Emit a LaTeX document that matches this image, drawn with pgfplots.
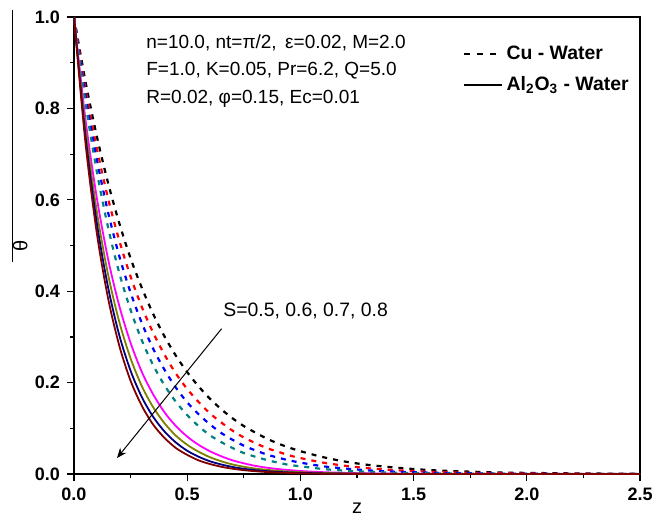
\documentclass[border=0pt]{standalone}
\usepackage{pgfplots}
\pgfplotsset{compat=1.18}
\usepackage{pgfplotstable}
\usetikzlibrary{arrows.meta}
\usepackage{fontspec}
\setmainfont{Liberation Sans}
\definecolor{cteal}{RGB}{0,128,128}
\definecolor{colive}{RGB}{128,128,0}
\definecolor{cnavy}{RGB}{0,0,128}
\definecolor{cmaroon}{RGB}{128,0,0}
\definecolor{cmag}{RGB}{255,0,255}

\pgfplotstableread{
z     a       b       c       d       e       f       g       h
0.00  1.000   1.000   1.000   1.000   1.000   1.000   1.000   1.000
0.05  0.861   0.845   0.831   0.815   0.779   0.760   0.743   0.728
0.10  0.741   0.715   0.691   0.664   0.607   0.577   0.552   0.530
0.15  0.638   0.604   0.574   0.541   0.472   0.438   0.410   0.386
0.20  0.549   0.511   0.477   0.440   0.368   0.333   0.304   0.281
0.25  0.472   0.432   0.397   0.359   0.287   0.253   0.226   0.204
0.30  0.407   0.365   0.330   0.292   0.223   0.192   0.168   0.149
0.35  0.350   0.309   0.274   0.238   0.174   0.146   0.125   0.108
0.40  0.301   0.261   0.228   0.194   0.135   0.111   0.093   0.079
0.45  0.259   0.220   0.189   0.158   0.105   0.084   0.069   0.057
0.50  0.223   0.186   0.157   0.129   0.082   0.064   0.051   0.042
0.55  0.192   0.158   0.131   0.105   0.064   0.049   0.038   0.030
0.60  0.165   0.133   0.109   0.085   0.050   0.037   0.028   0.022
0.65  0.142   0.113   0.090   0.070   0.039   0.028   0.021   0.016
0.70  0.122   0.095   0.075   0.057   0.030   0.021   0.0155  0.0117
0.75  0.105   0.080   0.062   0.046   0.0235  0.016   0.0115  0.0085
0.80  0.091   0.068   0.052   0.038   0.018   0.012   0.0086  0.0062
0.85  0.078   0.057   0.043   0.031   0.014   0.0093  0.0064  0.0045
0.90  0.067   0.049   0.036   0.025   0.011   0.0071  0.0047  0.0033
0.95  0.058   0.041   0.030   0.020   0.0087  0.0054  0.0035  0.0024
1.00  0.050   0.035   0.025   0.017   0.0067  0.0041  0.0026  0.0017
1.10  0.037   0.025   0.017   0.011   0.0041  0.0024  0.0014  0.0009
1.20  0.027   0.018   0.012   0.0073  0.0025  0.0014  0.0008  0.0005
1.30  0.020   0.0127  0.008   0.0048  0.0015  0.0008  0.0004  0.0003
1.40  0.015   0.009   0.0056  0.0032  0.0009  0.0005  0.0002  0.0001
1.50  0.011   0.0065  0.0039  0.0021  0.0006  0.0003  0.0001  0.0001
1.60  0.008   0.0046  0.0027  0.0014  0.0003  0.0002  0.0001  0.0000
1.70  0.006   0.0033  0.0019  0.0009  0.0002  0.0001  0.0000  0.0000
1.80  0.0045  0.0024  0.0013  0.0006  0.0001  0.0000  0.0000  0.0000
1.90  0.0033  0.0017  0.0009  0.0004  0.0000  0.0000  0.0000  0.0000
2.00  0.0025  0.0012  0.0006  0.0003  0.0000  0.0000  0.0000  0.0000
2.25  0.0012  0.0005  0.0002  0.0001  0.0000  0.0000  0.0000  0.0000
2.50  0.0006  0.0002  0.0001  0.0000  0.0000  0.0000  0.0000  0.0000
}\datatable

\begin{document}
\begin{tikzpicture}
\begin{axis}[
  scale only axis,
  width=283pt, height=228.5pt,
  xmin=0, xmax=2.5, ymin=0, ymax=1.0,
  clip mode=individual,
  xtick={0,0.5,...,2.5}, ytick={0,0.2,...,1.0},
  minor x tick num=1, minor y tick num=1,
  xtick pos=bottom, ytick pos=left,
  tick align=outside,
  major tick length=3.5pt, minor tick length=2pt,
  axis line style={line width=0.7pt},
  every tick/.style={line width=0.6pt, black},
  /pgf/number format/assume math mode=true,
  /pgf/number format/.cd, fixed, fixed zerofill, precision=1, /pgfplots/.cd,
  ticklabel style={font=\fontsize{9}{10}\selectfont\bfseries},
  xlabel={z}, xlabel style={font=\fontsize{10}{12}\selectfont, yshift=6pt},
  ylabel={θ}, ylabel style={font=\fontsize{10}{12}\selectfont, at={(axis description cs:-0.095,0.5)}, anchor=center},
  legend style={draw=none, fill=none, at={(axis description cs:0.676,0.955)}, anchor=north west,
    font=\fontsize{9.7}{11}\selectfont\bfseries, row sep=3pt},
  legend cell align=left,
  legend image code/.code={\draw[#1] (0pt,0pt) -- (19pt,0pt);},
  every axis plot/.append style={no markers},
]
\addlegendimage{black, line width=0.8pt, dash pattern=on 3pt off 3.5pt}
\addlegendentry{Cu - Water}
\addlegendimage{black, line width=0.6pt}
\addlegendentry{Al$_{\mathbf 2}$O$_{\mathbf 3}$ - Water}

\addplot[black, line width=1.1pt, dash pattern=on 2.5pt off 3pt, smooth] table[x=z,y=a] {\datatable};
\addplot[red, line width=1.1pt, dash pattern=on 2.5pt off 3pt, smooth] table[x=z,y=b] {\datatable};
\addplot[blue, line width=1.1pt, dash pattern=on 2.5pt off 3pt, smooth] table[x=z,y=c] {\datatable};
\addplot[cteal, line width=1.1pt, dash pattern=on 2.5pt off 3pt, smooth] table[x=z,y=d] {\datatable};
\addplot[cmag, line width=0.9pt, smooth] table[x=z,y=e] {\datatable};
\addplot[colive, line width=0.9pt, smooth] table[x=z,y=f] {\datatable};
\addplot[cnavy, line width=0.9pt, smooth] table[x=z,y=g] {\datatable};
\addplot[cmaroon, line width=0.9pt, smooth] table[x=z,y=h] {\datatable};

\node[anchor=west, font=\fontsize{9.5}{11}\selectfont, inner sep=0pt] at (axis cs:0.318,0.943) {n=10.0, nt=π/2, \,ε=0.02, M=2.0};
\node[anchor=west, font=\fontsize{9.5}{11}\selectfont, inner sep=0pt] at (axis cs:0.318,0.882) {F=1.0, K=0.05, Pr=6.2, Q=5.0};
\node[anchor=west, font=\fontsize{9.5}{11}\selectfont, inner sep=0pt] at (axis cs:0.318,0.820) {R=0.02, φ=0.15, Ec=0.01};
\node[anchor=west, font=\fontsize{9.7}{11}\selectfont, inner sep=0pt] at (axis cs:0.658,0.357) {S=0.5, 0.6, 0.7, 0.8};
\draw[-{Stealth[length=5pt,width=4pt]}, line width=0.5pt] (axis cs:0.652,0.318) -- (axis cs:0.19,0.035);
\draw[line width=0.5pt] (axis description cs:-0.108,1.015) -- (axis description cs:-0.108,0.464);
\coordinate (ll) at (axis description cs:-0.1307,-0.0897);
\coordinate (ur) at (axis description cs:1.0353,1.0372);
\end{axis}
\pgfresetboundingbox
\path (ll) rectangle (ur);
\end{tikzpicture}
\end{document}
